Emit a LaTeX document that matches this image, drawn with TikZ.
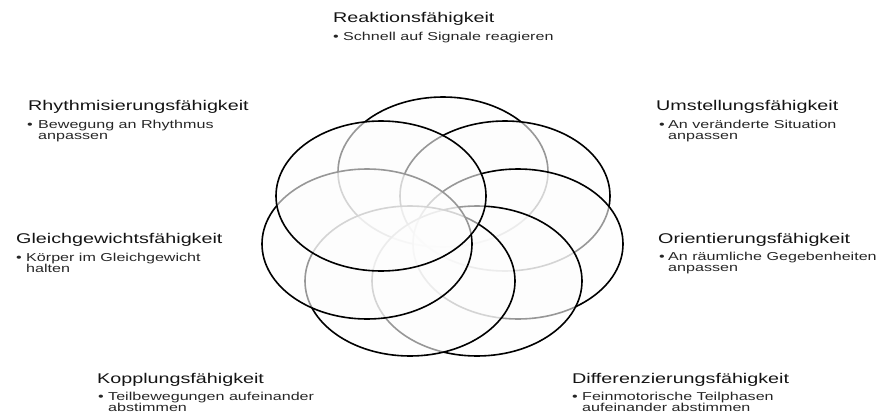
\documentclass[tikz,border=0pt]{standalone}
\usepackage{fontspec}
\setmainfont{Liberation Sans}
\newfontfamily\breitfont[FakeStretch=1.4]{Liberation Sans}

\tikzset{
  ring/.style={draw=black, line width=1.6pt, fill=black!0.8, fill opacity=0.6},
  titel/.style={anchor=base west, inner sep=0pt, text=black!92,
    font=\breitfont\fontsize{14.1}{16}\selectfont},
  punkt/.style={anchor=base west, inner sep=0pt, text=black!85,
    font=\breitfont\fontsize{11.5}{11}\selectfont},
  zeile/.style={punkt, align=left},
}

\begin{document}
\begin{tikzpicture}[x=1pt, y=-1pt]
  \useasboundingbox (0,0) rectangle (879,415);

  % Ellipsen, im Uhrzeigersinn
  \draw[ring] (443,172) ellipse (105 and 75);
  \draw[ring] (505,196) ellipse (105 and 75);
  \draw[ring] (518,244) ellipse (105 and 75);
  \draw[ring] (477,281) ellipse (105 and 75);
  \draw[ring] (410,281) ellipse (105 and 75);
  \draw[ring] (367,244) ellipse (105 and 75);
  \draw[ring] (381,196) ellipse (105 and 75);

  % Beschriftungen (zweizeilig: Grundlinie der letzten Zeile)
  \node[titel] (reak) at (333,23) {Reaktionsfähigkeit};
  \node[punkt] (reak-p) at (333,41) {•};
  \node[zeile] (reak-t) at (343,41) {Schnell auf Signale reagieren};

  \node[titel] (rhyt) at (28,110) {Rhythmisierungsfähigkeit};
  \node[punkt] (rhyt-p) at (27,128) {•};
  \node[zeile] (rhyt-t) at (38,139) {Bewegung an Rhythmus\\anpassen};

  \node[titel] (umst) at (656,110) {Umstellungsfähigkeit};
  \node[punkt] (umst-p) at (659,128) {•};
  \node[zeile] (umst-t) at (668,139) {An veränderte Situation\\anpassen};

  \node[titel] (glei) at (16,243) {Gleichgewichtsfähigkeit};
  \node[punkt] (glei-p) at (16,261) {•};
  \node[zeile] (glei-t) at (26,272) {Körper im Gleichgewicht\\halten};

  \node[titel] (orie) at (658,243) {Orientierungsfähigkeit};
  \node[punkt] (orie-p) at (659,260) {•};
  \node[zeile] (orie-t) at (668,271) {An räumliche Gegebenheiten\\anpassen};

  \node[titel] (kopp) at (97,383) {Kopplungsfähigkeit};
  \node[punkt] (kopp-p) at (98,400) {•};
  \node[zeile] (kopp-t) at (108,411) {Teilbewegungen aufeinander\\abstimmen};

  \node[titel] (diff) at (572,383) {Differenzierungsfähigkeit};
  \node[punkt] (diff-p) at (572,400) {•};
  \node[zeile] (diff-t) at (582,411) {Feinmotorische Teilphasen\\aufeinander abstimmen};

\end{tikzpicture}
\end{document}
